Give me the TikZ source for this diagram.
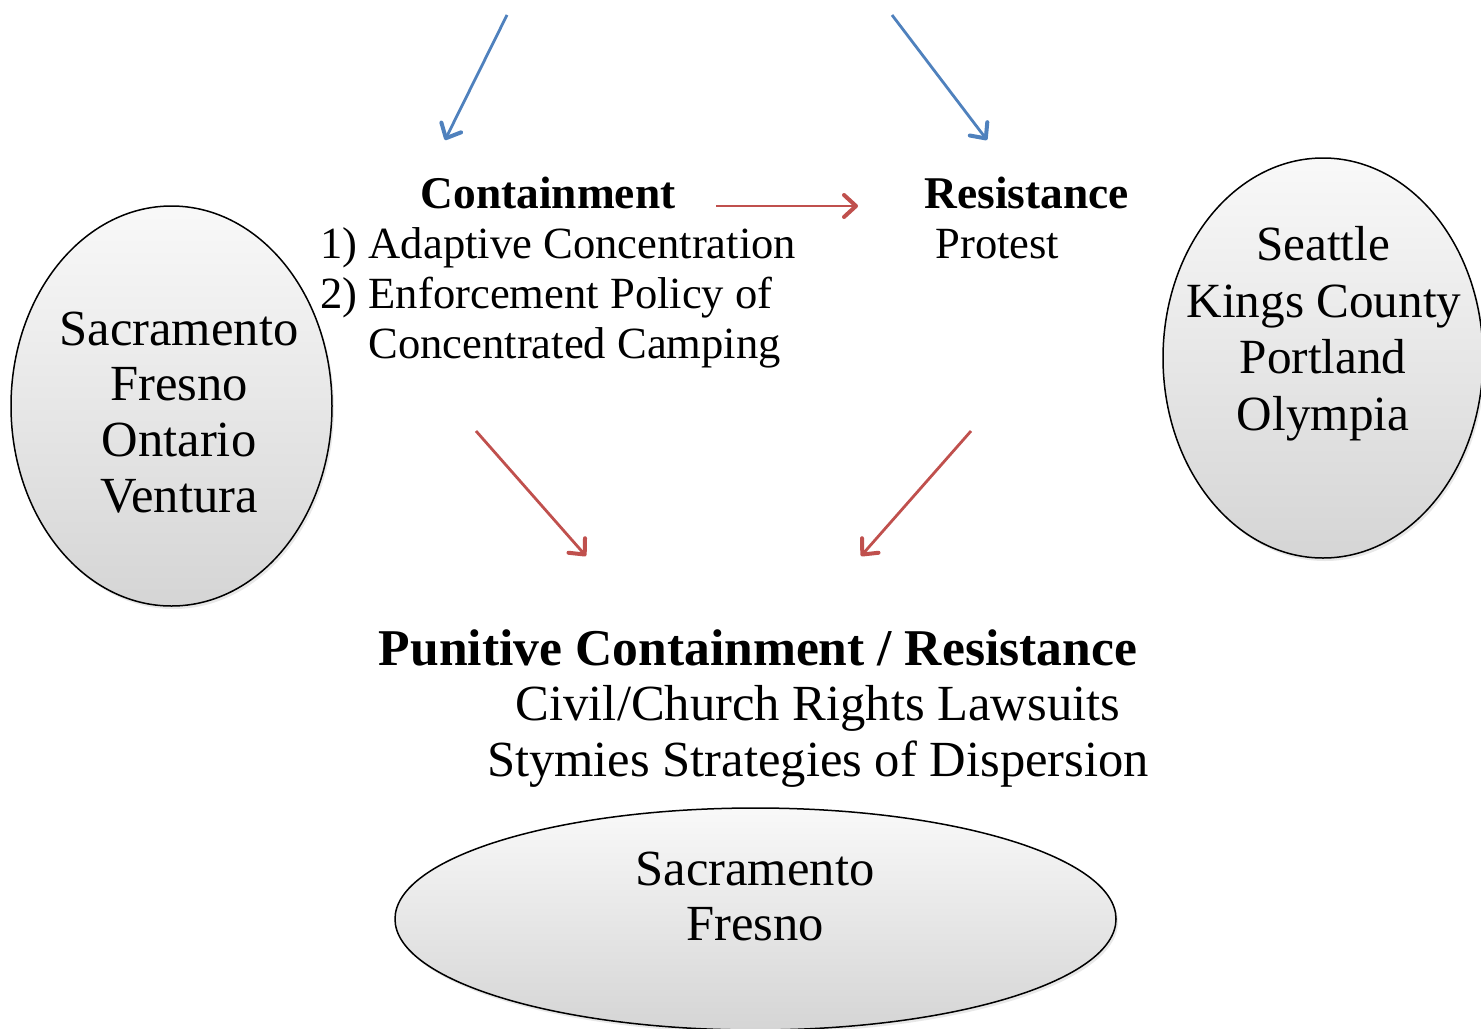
\documentclass[tikz,border=0pt]{standalone}
\usepackage{fontspec}
\setmainfont{Liberation Serif}
\usetikzlibrary{arrows.meta,shapes.geometric,shadows}
\definecolor{ablue}{HTML}{4F81BD}
\definecolor{ared}{HTML}{C0504D}
\begin{document}
\begin{tikzpicture}[x=0.5pt,y=-0.5pt,
  mid/.style={inner sep=0pt,font=\fontsize{22.3}{25}\selectfont},
  midb/.style={inner sep=0pt,font=\fontsize{22.7}{25}\selectfont\bfseries},
  big/.style={inner sep=0pt,font=\fontsize{25.3}{28}\selectfont},
  bigr/.style={inner sep=0pt,font=\fontsize{24.6}{28}\selectfont},
  bigb/.style={inner sep=0pt,font=\fontsize{25.8}{28}\selectfont\bfseries},
  city/.style={ellipse,draw=black,line width=0.75pt,top color=gray!5,bottom color=gray!33,
    inner sep=0pt,drop shadow={opacity=0.18,shadow xshift=1pt,shadow yshift=-1.5pt}},
  tip/.style={-{Straight Barb[length=6pt,width=11pt,line width=2pt,line cap=round,line join=round]}},
  barrow/.style={draw=ablue,line width=1.4pt,tip},
  rarrow/.style={draw=ared,line width=1.4pt,tip}]
\useasboundingbox (0,0) rectangle (1481,1028);
\fill[white] (0,0) rectangle (1481,1028);

% ellipses
\node[city,minimum width=160.5pt,minimum height=200pt] (eL) at (171.5,406) {};
\node[city,minimum width=160pt,minimum height=200pt] (eR) at (1323,358) {};
\node[city,minimum width=360.5pt,minimum height=111pt] (eB) at (755.5,919) {};

% left ellipse text
\node[big,anchor=base] (l1) at (179,345) {Sacramento};
\node[big,anchor=base] (l2) at (179,400) {Fresno};
\node[big,anchor=base] (l3) at (179,456) {Ontario};
\node[big,anchor=base] (l4) at (179,512) {Ventura};

% right ellipse text
\node[bigr,anchor=base] (r1) at (1323,260) {Seattle};
\node[bigr,anchor=base] (r2) at (1324,317) {Kings County};
\node[bigr,anchor=base] (r3) at (1323,373) {Portland};
\node[bigr,anchor=base] (r4) at (1323,430) {Olympia};

% bottom ellipse text
\node[big,anchor=base] (b1) at (755,885) {Sacramento};
\node[big,anchor=base] (b2) at (755,940) {Fresno};

% containment block
\node[midb,anchor=base] (cont) at (548,208) {Containment};
\node[mid,anchor=base west] (c1) at (320,258) {1) Adaptive Concentration};
\node[mid,anchor=base west] (c2) at (320,308) {2) Enforcement Policy of};
\node[mid,anchor=base west] (c3) at (368,358) {Concentrated Camping};

% resistance block
\node[midb,anchor=base west] (res) at (924,208) {Resistance};
\node[mid,anchor=base west] (prot) at (935,258) {Protest};

% bottom block
\node[bigb,anchor=base] (pun) at (758,665) {Punitive Containment / Resistance};
\node[big,anchor=base] (civ) at (818,720) {Civil/Church Rights Lawsuits};
\node[big,anchor=base] (sty) at (818,776) {Stymies Strategies of Dispersion};

% arrow endpoints
\coordinate (ba1) at (507,15);  \coordinate (ba2) at (445,140);
\coordinate (bb1) at (892,15);  \coordinate (bb2) at (987,140);
\coordinate (rh1) at (716,206); \coordinate (rh2) at (858,206);
\coordinate (rl1) at (476,431); \coordinate (rl2) at (586,556);
\coordinate (rr1) at (971,431); \coordinate (rr2) at (861,556);

\draw[barrow] (ba1) -- (ba2);
\draw[barrow] (bb1) -- (bb2);
\draw[rarrow] (rh1) -- (rh2);
\draw[rarrow] (rl1) -- (rl2);
\draw[rarrow] (rr1) -- (rr2);
\end{tikzpicture}
\end{document}
